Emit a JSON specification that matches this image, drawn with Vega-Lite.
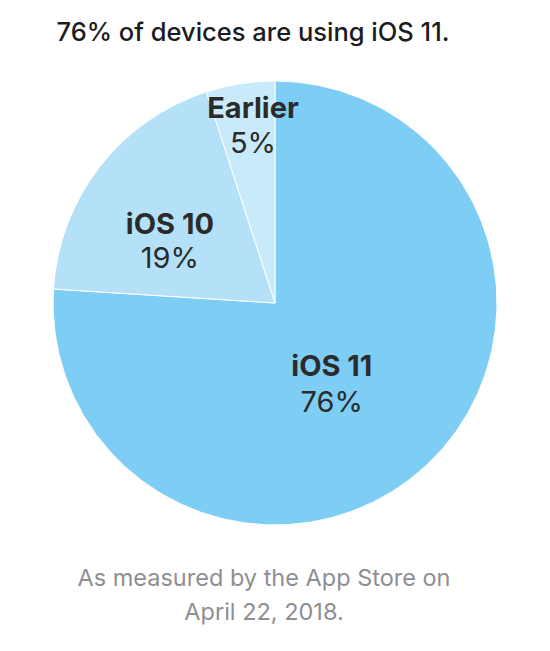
{
  "$schema": "https://vega.github.io/schema/vega-lite/v6.json",
  "padding": {"left": 0, "right": 0, "top": 20, "bottom": 0},
  "background": "#ffffff",
  "title": {
    "text": "76% of devices are using iOS 11.",
    "font": "Inter",
    "fontSize": 25.5,
    "fontWeight": 500,
    "color": "#1c1c1e",
    "anchor": "middle",
    "dx": -22,
    "offset": 33
  },
  "datasets": {
    "share": [
      {"os": "iOS 11", "share": 0.76, "rank": 1},
      {"os": "iOS 10", "share": 0.19, "rank": 2},
      {"os": "Earlier", "share": 0.05, "rank": 3}
    ]
  },
  "vconcat": [
    {
      "width": 550,
      "height": 444,
      "data": {"name": "share"},
      "title": {
        "text": ["As measured by the App Store on", "April 22, 2018."],
        "orient": "bottom",
        "anchor": "middle",
        "font": "Inter",
        "fontSize": 23.5,
        "fontWeight": 400,
        "color": "#8e8e93",
        "lineHeight": 34,
        "dx": -11,
        "offset": 40
      },
      "encoding": {
        "theta": {"field": "share", "type": "quantitative", "stack": true},
        "order": {"field": "rank", "type": "quantitative"}
      },
      "layer": [
        {
          "mark": {"type": "arc", "radius": 222, "stroke": "#ffffff", "strokeWidth": 1},
          "encoding": {
            "color": {
              "field": "os",
              "type": "nominal",
              "scale": {"domain": ["iOS 11", "iOS 10", "Earlier"], "range": ["#7dcdf5", "#b4e1f8", "#c9eafb"]},
              "legend": null
            }
          }
        },
        {
          "mark": {"type": "text", "radius": 83, "dy": 3, "font": "Inter", "fontSize": 29, "fontWeight": 700, "color": "#2b2b2b", "baseline": "middle", "align": "center"},
          "encoding": {"text": {"condition": {"test": "datum.os === 'iOS 11'", "field": "os", "type": "nominal"}, "value": ""}}
        },
        {
          "mark": {"type": "text", "radius": 83, "dy": 39, "font": "Inter", "fontSize": 29, "fontWeight": 400, "color": "#2b2b2b", "baseline": "middle", "align": "center"},
          "encoding": {"text": {"condition": {"test": "datum.os === 'iOS 11'", "field": "share", "type": "quantitative", "format": ".0%"}, "value": ""}}
        },
        {
          "mark": {"type": "text", "radius": 133, "dy": 3.5, "font": "Inter", "fontSize": 29, "fontWeight": 700, "color": "#2b2b2b", "baseline": "middle", "align": "center"},
          "encoding": {"text": {"condition": {"test": "datum.os === 'iOS 10'", "field": "os", "type": "nominal"}, "value": ""}}
        },
        {
          "mark": {"type": "text", "radius": 133, "dy": 38, "font": "Inter", "fontSize": 29, "fontWeight": 400, "color": "#2b2b2b", "baseline": "middle", "align": "center"},
          "encoding": {"text": {"condition": {"test": "datum.os === 'iOS 10'", "field": "share", "type": "quantitative", "format": ".0%"}, "value": ""}}
        },
        {
          "mark": {"type": "text", "radius": 179, "dx": 6, "dy": -17, "font": "Inter", "fontSize": 29, "fontWeight": 700, "color": "#2b2b2b", "baseline": "middle", "align": "center"},
          "encoding": {"text": {"condition": {"test": "datum.os === 'Earlier'", "field": "os", "type": "nominal"}, "value": ""}}
        },
        {
          "mark": {"type": "text", "radius": 179, "dx": 6, "dy": 18, "font": "Inter", "fontSize": 29, "fontWeight": 400, "color": "#2b2b2b", "baseline": "middle", "align": "center"},
          "encoding": {"text": {"condition": {"test": "datum.os === 'Earlier'", "field": "share", "type": "quantitative", "format": ".0%"}, "value": ""}}
        }
      ]
    }
  ],
  "config": {
    "view": {"stroke": null},
    "concat": {"spacing": 0}
  }
}
